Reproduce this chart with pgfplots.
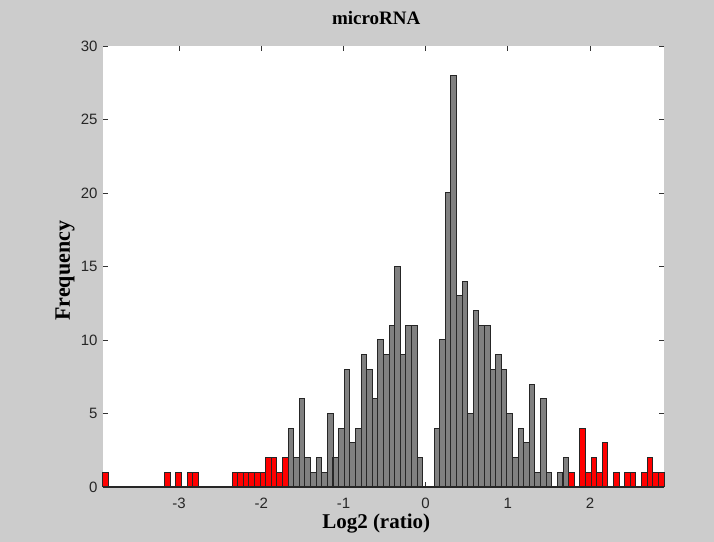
\documentclass[border=0pt]{standalone}
\usepackage{pgfplots}
\usepackage{pgfplotstable}
\pgfplotsset{compat=1.18}
\usepackage{fontspec}
\setmainfont{Liberation Serif}
\newfontfamily\ticksfont{Liberation Sans}

\definecolor{figbg}{HTML}{CCCCCC}
\definecolor{bargray}{HTML}{808080}
\definecolor{barred}{HTML}{FF0000}

% histogram of log2 ratios, 100 bins; bin centre and count
\pgfplotstableread{
x y
-1.639 4
-1.571 2
-1.502 6
-1.434 2
-1.366 1
-1.298 2
-1.229 1
-1.161 5
-1.093 2
-1.025 4
-0.956 8
-0.888 3
-0.820 4
-0.752 9
-0.683 8
-0.615 6
-0.547 10
-0.478 9
-0.410 11
-0.342 15
-0.274 9
-0.205 11
-0.137 11
-0.069 2
0.136 4
0.204 10
0.272 20
0.341 28
0.409 13
0.477 14
0.545 5
0.614 12
0.682 11
0.750 11
0.818 8
0.887 9
0.955 8
1.023 5
1.091 2
1.160 4
1.228 3
1.296 7
1.364 1
1.433 6
1.501 1
1.637 1
1.706 2
}\innerbins

% bins in the tails
\pgfplotstableread{
x y
-3.891 1
-3.140 1
-3.004 1
-2.867 1
-2.799 1
-2.321 1
-2.253 1
-2.185 1
-2.117 1
-2.048 1
-1.980 1
-1.912 2
-1.843 2
-1.775 1
-1.707 2
1.774 1
1.910 4
1.979 1
2.047 2
2.115 1
2.183 3
2.320 1
2.456 1
2.525 1
2.661 1
2.729 2
2.798 1
2.866 1
}\tailbins

\begin{document}
\begin{tikzpicture}
\fill[figbg] (0,0) rectangle (714bp,542bp);
\begin{axis}[
  at={(103bp,55bp)}, anchor=south west,
  width=561bp, height=441bp, scale only axis,
  xmin=-3.925, xmax=2.9, ymin=0, ymax=30,
  clip=false,
  axis background/.style={fill=white},
  axis line style={draw=none},
  xtick={-3,-2,-1,0,1,2},
  ytick={0,5,10,15,20,25,30},
  tick align=inside,
  major tick length=5bp,
  tick style={color=black!80, line width=0.8bp},
  /pgf/number format/assume math mode=true,
  ticklabel style={font=\ticksfont\fontsize{15bp}{18bp}\selectfont, color=black!85},
  xticklabel style={yshift=-8bp},
  yticklabel style={xshift=-2bp},
  title={\bfseries microRNA},
  title style={at={(axis description cs:0.487,1.036)}, anchor=base,
    font=\fontsize{19bp}{22bp}\selectfont},
  xlabel={\bfseries Log2 (ratio)},
  xlabel style={at={(axis description cs:0.487,-0.093)}, anchor=base,
    font=\fontsize{21bp}{24bp}\selectfont},
  ylabel={\bfseries Frequency},
  ylabel style={at={(axis description cs:-0.059,0.49)}, anchor=base, rotate=0,
    font=\fontsize{22bp}{25bp}\selectfont},
]
\addplot[ybar, bar width=0.06825, bar shift=0pt, fill=bargray,
  draw=black!85, line width=1bp] table {\innerbins};
\addplot[ybar, bar width=0.06825, bar shift=0pt, fill=barred,
  draw=black!85, line width=1bp] table {\tailbins};
% bar baseline
\addplot[black!85, line width=1.3bp] coordinates {(-3.925,0) (2.9,0)};
\end{axis}
\pgfresetboundingbox
\useasboundingbox (0,0) rectangle (714bp,542bp);
\end{tikzpicture}
\end{document}
